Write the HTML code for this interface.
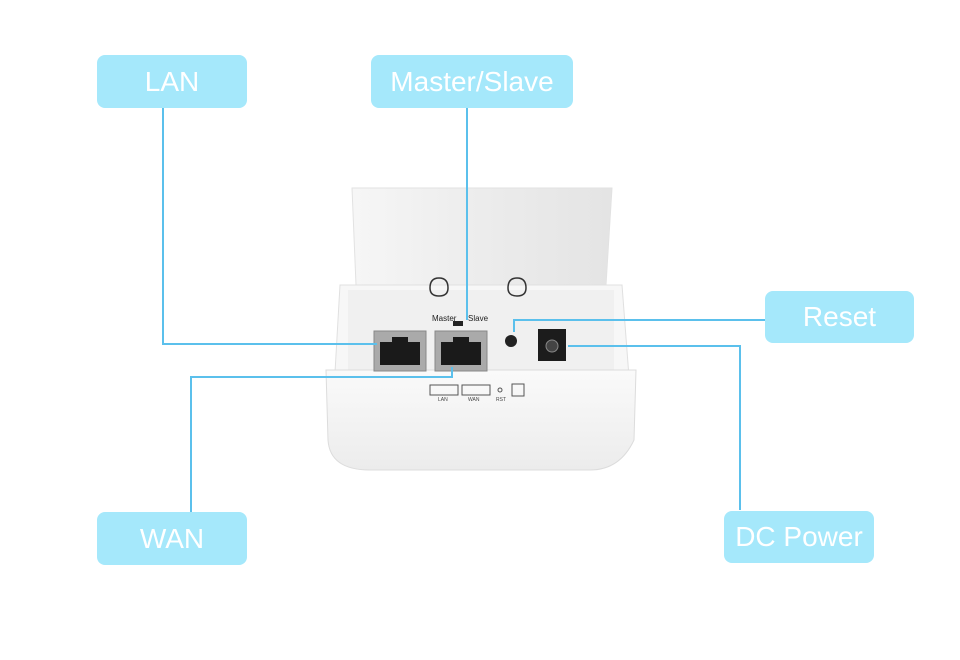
<!DOCTYPE html>
<html><head><style>
body{margin:0;background:#fff;width:960px;height:660px;overflow:hidden;position:relative;font-family:"Liberation Sans",sans-serif}
.l{position:absolute;background:#a5e8fb;color:#fff;font-size:28px;border-radius:8px;display:flex;align-items:center;justify-content:center}
svg{position:absolute;left:0;top:0}
</style></head><body>
<svg width="960" height="660">
<defs><linearGradient id="g" x1="0" y1="0" x2="0" y2="1"><stop offset="0" stop-color="#fafafa"/><stop offset="1" stop-color="#ececec"/></linearGradient>
<linearGradient id="t" x1="0" y1="0" x2="1" y2="0"><stop offset="0" stop-color="#f6f6f6"/><stop offset="0.5" stop-color="#ececec"/><stop offset="1" stop-color="#e4e4e4"/></linearGradient></defs>
<path d="M352 188 L612 188 L606 285 L356 285 Z" fill="url(#t)" stroke="#e2e2e2"/>
<path d="M340 285 L622 285 L630 390 L334 390 Z" fill="#f7f7f7" stroke="#e0e0e0"/>
<path d="M348 290 L614 290 L614 372 L348 372 Z" fill="#f0f0f0"/>
<path d="M326 370 L636 370 L634 440 Q620 470 590 470 L370 470 Q330 470 328 440 Z" fill="url(#g)" stroke="#dcdcdc"/>
<path d="M430 288 q0 -10 9 -10 q9 0 9 10 q0 8 -9 8 q-9 0 -9 -8z" fill="none" stroke="#333" stroke-width="1.5"/>
<path d="M508 288 q0 -10 9 -10 q9 0 9 10 q0 8 -9 8 q-9 0 -9 -8z" fill="none" stroke="#333" stroke-width="1.5"/>
<text x="432" y="321" font-size="8" fill="#222">Master</text><text x="468" y="321" font-size="8" fill="#222">Slave</text>
<rect x="453" y="321" width="10" height="5" fill="#222"/>
<rect x="374" y="331" width="52" height="40" fill="#aaa" stroke="#888"/>
<path d="M380 342 h12 v-5 h16 v5 h12 v23 h-40z" fill="#1a1a1a"/>
<rect x="435" y="331" width="52" height="40" fill="#aaa" stroke="#888"/>
<path d="M441 342 h12 v-5 h16 v5 h12 v23 h-40z" fill="#1a1a1a"/>
<circle cx="511" cy="341" r="6" fill="#222"/>
<rect x="538" y="329" width="28" height="32" fill="#1c1c1c"/>
<circle cx="552" cy="346" r="6" fill="#444" stroke="#888"/>
<g stroke="#555" fill="none" stroke-width="1">
<rect x="430" y="385" width="28" height="10"/><rect x="462" y="385" width="28" height="10"/>
<circle cx="500" cy="390" r="2"/><rect x="512" y="384" width="12" height="12"/></g>
<g font-size="5" fill="#444"><text x="438" y="401">LAN</text><text x="468" y="401">WAN</text><text x="496" y="401">RST</text></g>
<g fill="none" stroke="#5bc0ec" stroke-width="2">
<polyline points="163,108 163,344 377,344"/>
<polyline points="467,108 467,320"/>
<polyline points="191,512 191,377 452,377 452,367"/>
<polyline points="765,320 514,320 514,332"/>
<polyline points="740,510 740,346 568,346"/>
</g>
</svg>
<div class="l" style="left:97px;top:55px;width:150px;height:53px">LAN</div>
<div class="l" style="left:371px;top:55px;width:202px;height:53px">Master/Slave</div>
<div class="l" style="left:765px;top:291px;width:149px;height:52px">Reset</div>
<div class="l" style="left:97px;top:512px;width:150px;height:53px">WAN</div>
<div class="l" style="left:724px;top:511px;width:150px;height:52px">DC Power</div>
</body></html>
